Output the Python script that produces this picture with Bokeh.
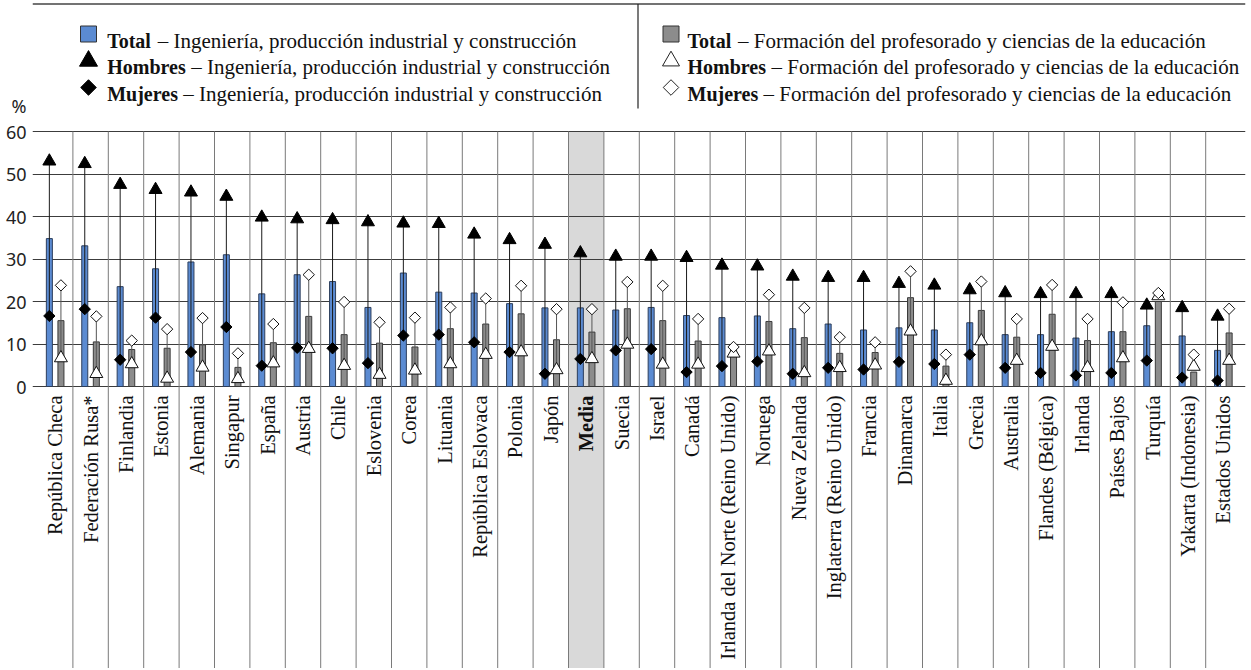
import numpy as np
from bokeh.plotting import figure
from bokeh.models import Range1d, FixedTicker, ColumnDataSource
from bokeh.core.properties import value
from bokeh.embed import file_html
from bokeh.resources import INLINE

# ---------------- data ----------------
categories = ["República Checa", "Federación Rusa*", "Finlandia", "Estonia", "Alemania",
              "Singapur", "España", "Austria", "Chile", "Eslovenia", "Corea", "Lituania",
              "República Eslovaca", "Polonia", "Japón", "Media", "Suecia", "Israel", "Canadá",
              "Irlanda del Norte (Reino Unido)", "Noruega", "Nueva Zelanda",
              "Inglaterra (Reino Unido)", "Francia", "Dinamarca", "Italia", "Grecia",
              "Australia", "Flandes (Bélgica)", "Irlanda", "Países Bajos", "Turquía",
              "Yakarta (Indonesia)", "Estados Unidos"]
eng_total = [34.8, 33.1, 23.5, 27.7, 29.3, 31.0, 21.8, 26.3, 24.7, 18.6, 26.7, 22.2, 22.0, 19.5,
             18.5, 18.5, 18.0, 18.6, 16.7, 16.2, 16.6, 13.6, 14.7, 13.3, 13.8, 13.3, 15.0, 12.2,
             12.2, 11.4, 12.9, 14.3, 11.9, 8.5]
eng_men = [53.0, 52.4, 47.5, 46.3, 45.7, 44.7, 39.8, 39.4, 39.2, 38.7, 38.4, 38.3, 35.8, 34.5,
           33.4, 31.4, 30.6, 30.6, 30.3, 28.5, 28.3, 25.9, 25.6, 25.6, 24.2, 23.8, 22.7, 22.0,
           21.8, 21.8, 21.8, 19.1, 18.5, 16.5]
eng_women = [16.6, 18.2, 6.3, 16.2, 8.1, 14.0, 4.9, 9.1, 9.0, 5.5, 12.0, 12.2, 10.4, 8.1,
             3.0, 6.5, 8.5, 8.8, 3.4, 4.8, 5.9, 3.0, 4.4, 4.0, 5.8, 5.3, 7.5, 4.4,
             3.2, 2.6, 3.2, 6.1, 2.1, 1.4]
edu_total = [15.5, 10.5, 8.7, 9.0, 9.8, 4.5, 10.3, 16.5, 12.2, 10.2, 9.3, 13.6, 14.7, 17.1,
             11.0, 12.8, 18.3, 15.5, 10.7, 8.5, 15.3, 11.5, 7.8, 8.0, 20.9, 4.8, 17.9, 11.6,
             17.0, 10.8, 12.9, 20.0, 3.4, 12.6]
edu_men = [6.7, 3.0, 5.3, 1.9, 4.5, 1.8, 5.5, 8.9, 4.9, 2.8, 3.8, 5.3, 7.5, 8.1,
           3.9, 6.5, 9.9, 5.2, 5.2, 7.8, 8.3, 3.2, 4.4, 5.0, 13.0, 1.4, 10.7, 6.1,
           9.4, 4.4, 6.7, 21.3, 4.7, 6.1]
edu_women = [23.8, 16.5, 10.8, 13.5, 16.1, 7.8, 14.7, 26.3, 19.9, 15.1, 16.2, 18.6, 20.7, 23.7,
             18.2, 18.2, 24.6, 23.7, 15.9, 9.3, 21.6, 18.5, 11.6, 10.4, 27.1, 7.5, 24.7, 15.9,
             23.9, 15.9, 19.8, 22.0, 7.5, 18.3]
y_ticks = [0, 10, 20, 30, 40, 50, 60]
unit_label = "%"
highlight = "Media"

legend_bold = ["Total", "Hombres", "Mujeres"]
legend_eng = "– Ingeniería, producción industrial y construcción"
legend_edu = "– Formación del profesorado y ciencias de la educación"

# ---------------- layout constants ----------------
SERIF = value("Liberation Serif")
BLUE = "#5B8BD2"
GREY = "#8C8C8C"
W, H = 1249, 668
FRAME_L, FRAME_R = 32, 1245      # canvas x of frame edges
CAT_L = 37                       # canvas x where first category starts
PX_PER_UNIT = 4.25               # vertical pixels per percentage point
ZERO_Y = 386                     # canvas y of the zero line
n = len(categories)
PX_PER_CAT = 35.4
X0 = -(CAT_L - FRAME_L) / PX_PER_CAT
X1 = X0 + (FRAME_R - FRAME_L) / PX_PER_CAT
Y_TOP = ZERO_Y / PX_PER_UNIT
Y_BOT = (ZERO_Y - H) / PX_PER_UNIT


def fx(sx):  # canvas x -> data x (legend placement only)
    return X0 + (sx - FRAME_L) / PX_PER_CAT


def fy(sy):  # canvas y -> data y (legend placement only)
    return (ZERO_Y - sy) / PX_PER_UNIT


pct_y = fy(105)

p = figure(width=W, height=H, x_range=Range1d(X0, X1), y_range=Range1d(Y_BOT, Y_TOP),
           output_backend="svg", toolbar_location=None,
           min_border_left=FRAME_L, min_border_right=W - FRAME_R, min_border_top=0,
           min_border_bottom=0, x_axis_location=None, outline_line_color=None)
p.xgrid.visible = False
p.ygrid.ticker = FixedTicker(ticks=y_ticks)
p.ygrid.grid_line_color = "#3c3c3c"
p.ygrid.grid_line_width = 1
p.yaxis.ticker = FixedTicker(ticks=y_ticks + [pct_y])
p.yaxis.major_label_overrides = {pct_y: unit_label}
p.yaxis.axis_line_color = None
p.yaxis.major_tick_line_color = None
p.yaxis.minor_tick_line_color = None
p.yaxis.major_tick_out = 0
p.yaxis.major_tick_in = 0
p.yaxis.minor_tick_out = 0
p.yaxis.minor_tick_in = 0
p.yaxis.major_label_standoff = 6
p.yaxis.major_label_text_font = "Noto Sans"
p.yaxis.major_label_text_font_size = "18px"
p.yaxis.major_label_text_color = "#222222"

# ---------------- legend ----------------
p.segment(x0=[X0], y0=[fy(3.5)], x1=[X1], y1=[fy(3.5)], line_color="#444444", line_width=1.5)
p.segment(x0=[fx(637.5)], y0=[fy(3.5)], x1=[fx(637.5)], y1=[fy(108)], line_color="#222222",
          line_width=1.2)

mk_y = [fy(33.5), fy(60.5), fy(87)]
base_y = [fy(40.5), fy(66.7), fy(93.3)]
bold_w = [50.5, 84.0, 76.0]
c1x, c2x = fx(88), fx(670.5)

p.scatter(x=[c1x], y=[mk_y[0]], marker="square", size=16, fill_color=BLUE,
          line_color="#333333", line_width=1)
p.scatter(x=[c1x], y=[mk_y[1]], marker="triangle", size=18, fill_color="black",
          line_color="black")
p.scatter(x=[c1x], y=[mk_y[2]], marker="square", angle=np.pi / 4, size=11,
          fill_color="black", line_color="black")
p.scatter(x=[c2x], y=[mk_y[0]], marker="square", size=16, fill_color=GREY,
          line_color="#333333", line_width=1)
p.scatter(x=[c2x], y=[mk_y[1]], marker="triangle", size=17, fill_color="white",
          line_color="#222222", line_width=1)
p.scatter(x=[c2x], y=[mk_y[2]], marker="square", angle=np.pi / 4, size=11,
          fill_color="white", line_color="#222222", line_width=1)

for sx0, txt in [(106.7, legend_eng), (687.0, legend_edu)]:
    p.text(x=[fx(sx0)] * 3, y=base_y, text=legend_bold, text_font=SERIF,
           text_font_size="20px", text_font_style="bold", text_color="#111111",
           text_baseline="alphabetic", text_align="left")
    p.text(x=[fx(sx0 + b) for b in bold_w], y=base_y, text=[txt] * 3, text_font=SERIF,
           text_font_size="21px", text_color="#111111",
           text_baseline="alphabetic", text_align="left")

# ---------------- chart ----------------
xc = np.arange(n) + 0.5
src = ColumnDataSource(dict(
    x=xc, xb=xc - 0.165, xg=xc + 0.162, cat=categories,
    style=["bold" if c == highlight else "normal" for c in categories],
    eng_total=eng_total, eng_men=eng_men, eng_women=eng_women,
    edu_total=edu_total, edu_men=edu_men, edu_women=edu_women))

hi = categories.index(highlight)
p.vbar(x=[xc[hi]], width=1.0, bottom=Y_BOT, top=60, fill_color="#D9D9D9",
       line_color=None, level="image")

seps = np.arange(1, n)
p.segment(x0=seps, y0=60, x1=seps, y1=Y_BOT, line_color="#7a7a7a", line_width=1)

p.vbar(x="xb", top="eng_total", bottom=0, width=0.17, source=src, fill_color=BLUE,
       line_color="#2c3e5c", line_width=1)
p.vbar(x="xg", top="edu_total", bottom=0, width=0.17, source=src, fill_color=GREY,
       line_color="#3a3a3a", line_width=1)

p.segment(x0="xb", y0="eng_women", x1="xb", y1="eng_men", source=src,
          line_color="#1a1a1a", line_width=1)
p.segment(x0="xg", y0="edu_men", x1="xg", y1="edu_women", source=src,
          line_color="#555555", line_width=1)

p.scatter(x="xb", y="eng_men", source=src, marker="triangle", size=13,
          fill_color="black", line_color="black")
p.scatter(x="xb", y="eng_women", source=src, marker="square", angle=np.pi / 4, size=8,
          fill_color="black", line_color="black")
p.scatter(x="xg", y="edu_men", source=src, marker="triangle", size=13,
          fill_color="white", line_color="#111111", line_width=1)
p.scatter(x="xg", y="edu_women", source=src, marker="square", angle=np.pi / 4, size=8,
          fill_color="white", line_color="#111111", line_width=1)

p.text(x="x", y=fy(395), text="cat", source=src, angle=np.pi / 2, text_align="right",
       text_baseline="middle", text_font=SERIF, text_font_size="20.5px",
       text_font_style="style", text_color="#111111")

open("out.html", "w").write(file_html(p, INLINE))
